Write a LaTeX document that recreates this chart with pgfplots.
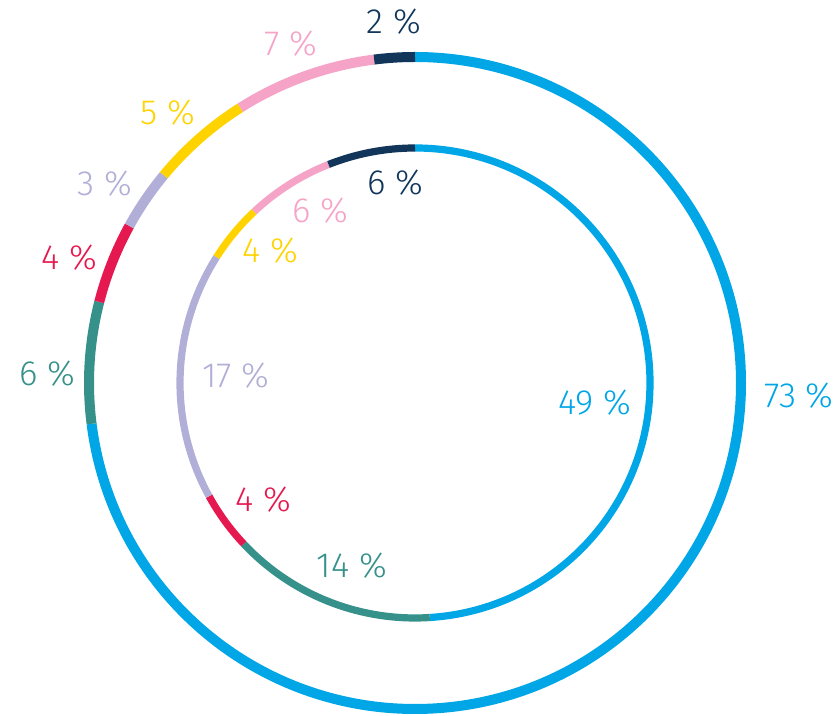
\documentclass[border=0pt]{standalone}
\usepackage{pgfplots}
\usepackage{pgfplotstable}
\pgfplotsset{compat=1.18}
\usepackage{fontspec}
\setmainfont{Fira Sans Light}

\definecolor{cblue}{HTML}{00A6E6}
\definecolor{cteal}{HTML}{36918A}
\definecolor{cred}{HTML}{E5194F}
\definecolor{clav}{HTML}{B1AED7}
\definecolor{cyel}{HTML}{FFD300}
\definecolor{cpink}{HTML}{F5A3C7}
\definecolor{cnavy}{HTML}{12355A}

% percentages, clockwise from 12 o'clock; label centre in pixels
\pgfplotstableread{
pct col lx ly
73 cblue 799 396
6 cteal 47 374
4 cred 69 258
3 clav 105 184
5 cyel 168 113
7 cpink 291 44
2 cnavy 394 22
}\outerdata

\pgfplotstableread{
pct col lx ly
49 cblue 595 403
14 cteal 352 566
4 cred 263 500
17 clav 236 376
4 cyel 270 251
6 cpink 320 211
6 cnavy 395 183
}\innerdata

\tikzset{lbl/.style={font=\fontsize{17.5}{20}\selectfont, inner sep=0pt}}

\newcommand\drawring[3]{%
  \gdef\cum{0}%
  \pgfplotsinvokeforeach{0,...,6}{%
    \pgfplotstablegetelem{##1}{pct}\of#1\edef\p{\pgfplotsretval}%
    \pgfplotstablegetelem{##1}{col}\of#1\edef\c{\pgfplotsretval}%
    \pgfplotstablegetelem{##1}{lx}\of#1\edef\lx{\pgfplotsretval}%
    \pgfplotstablegetelem{##1}{ly}\of#1\pgfmathsetmacro\ly{716-\pgfplotsretval}%
    \pgfmathsetmacro\a{90-3.6*\cum}%
    \pgfmathsetmacro\b{\a-3.6*\p}%
    \pgfmathsetmacro\sx{415+#2*cos(\a)}%
    \pgfmathsetmacro\sy{333+#2*sin(\a)}%
    \pgfmathsetmacro\rr{#2*0.5}%
    \pgfmathsetmacro\newcum{\cum+\p}\xdef\cum{\newcum}%
    \edef\temp{\noexpand\draw[line width=#3, color=\c] (axis cs:\sx,\sy) arc[start angle=\a, end angle=\b, radius=\rr pt];
      \noexpand\node[lbl, text=\c] at (axis cs:\lx,\ly) {\p{} \noexpand\%};}%
    \temp
  }%
}

\begin{document}
\begin{tikzpicture}
\begin{axis}[
  scale only axis, width=418.5pt, height=358pt,
  xmin=0, xmax=837, ymin=0, ymax=716,
  hide axis, clip=false]
  \path (axis cs:0,0) rectangle (axis cs:837,716);
  \drawring{\outerdata}{326}{5pt}
  \drawring{\innerdata}{235}{3.6pt}
\end{axis}
\end{tikzpicture}
\end{document}
